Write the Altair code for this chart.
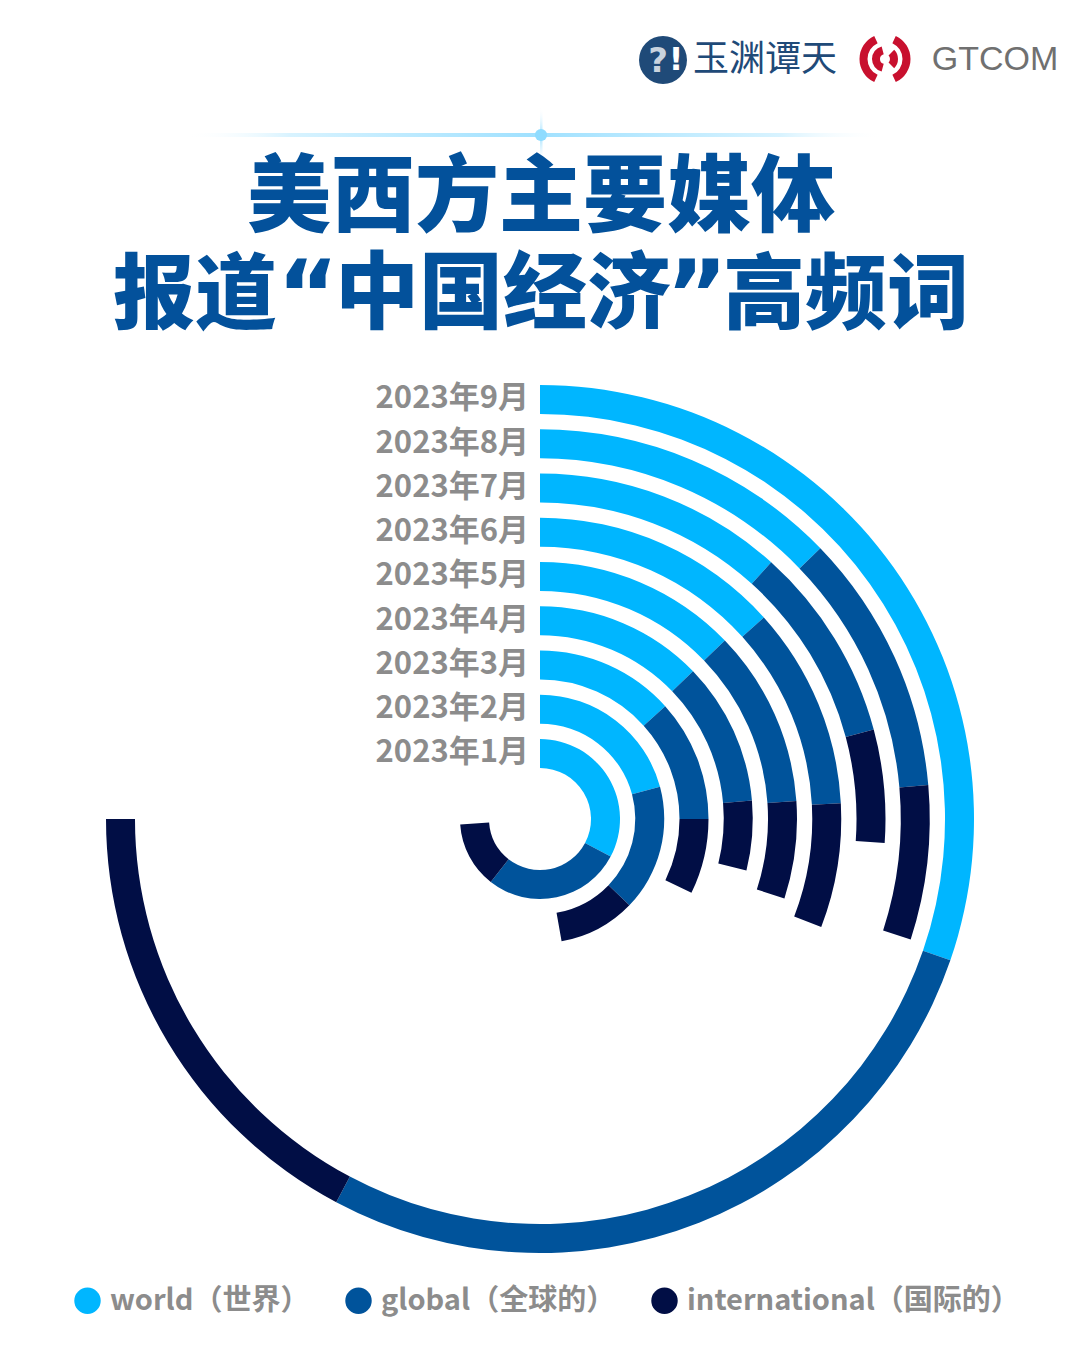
import altair as alt
import pandas as pd
import math

# ---------------- data ----------------
months = ["2023年1月", "2023年2月", "2023年3月", "2023年4月", "2023年5月",
          "2023年6月", "2023年7月", "2023年8月", "2023年9月"]
series = ["world（世界）", "global（全球的）", "international（国际的）"]
world = [118, 75, 48, 46, 46, 48, 42, 46, 109]
global_vals = [100, 59, 42, 39, 40, 39, 33, 39, 99]
international = [48, 36, 26, 19, 22, 24, 19, 23, 62]
colors = ["#00B6FF", "#00539B", "#010E45"]

title_line1 = "美西方主要媒体"
title_line2_parts = ["报道", "“", "中国经济", "”", "高频词"]

rows = []
for i, m in enumerate(months):
    for j, (s, vals) in enumerate(zip(series, [world, global_vals, international])):
        rows.append({"month": m, "ring": i + 1, "series": s, "order": j, "value": vals[i]})
df = pd.DataFrame(rows)
labels_df = pd.DataFrame({"month": months, "ring": list(range(1, len(months) + 1))})
one = pd.DataFrame({"a": [0]})

FONT = "Noto Sans CJK SC"
CX, CY = 532, 811
THICK = 0.655
theta_scale = alt.Scale(type="linear", domain=[0, 360], range=[0, 6.283185307179586])
r_scale = alt.Scale(type="linear", domain=[0, 9], range=[35.75, 434], zero=False)

arcs = alt.Chart(df).transform_window(
    cum="sum(value)", groupby=["month"], sort=[alt.SortField("order")], frame=[None, 0]
).transform_calculate(
    start="datum.cum - datum.value", inner=f"datum.ring - {THICK}"
).mark_arc(strokeWidth=0).encode(
    x=alt.value(CX), y=alt.value(CY),
    theta=alt.Theta("start:Q", scale=theta_scale, stack=None),
    theta2="cum:Q",
    radius=alt.Radius("ring:Q", scale=r_scale),
    radius2="inner:Q",
    color=alt.Color(
        "series:N",
        scale=alt.Scale(domain=series, range=colors),
        legend=alt.Legend(
            title=None, orient="none", legendX=65, legendY=1278, direction="horizontal",
            symbolType="circle", symbolSize=700, symbolStrokeWidth=0,
            labelFont=FONT, labelFontSize=29, labelFontWeight="bold", labelColor="#8C8C8C",
            labelOffset=8, columnPadding=34, padding=0, labelLimit=0,
        ),
    ),
)

labels = alt.Chart(labels_df).transform_calculate(
    mid=f"datum.ring - {THICK / 2}", t0="0"
).mark_text(
    align="right", baseline="middle", dx=-11, font=FONT, fontSize=31,
    fontWeight="bold", color="#8C8C8C"
).encode(
    x=alt.value(CX), y=alt.value(CY),
    theta=alt.Theta("t0:Q", scale=theta_scale, stack=None),
    radius=alt.Radius("mid:Q", scale=r_scale),
    text="month:N",
)


def txt(text, x, y, size, color, weight="bold", font=FONT, align="center", baseline="middle"):
    return alt.Chart(one).mark_text(
        text=text, align=align, baseline=baseline, fontSize=size, fontWeight=weight,
        font=font, color=color
    ).encode(x=alt.value(x), y=alt.value(y))


def arc(x, y, r_in, r_out, t0, t1, color):
    return alt.Chart(one).mark_arc(color=color, strokeWidth=0).encode(
        x=alt.value(x), y=alt.value(y),
        theta=alt.value(t0), theta2=alt.value(t1),
        radius=alt.value(r_out), radius2=alt.value(r_in),
    )


d = math.pi / 180

# title decoration
hglow = alt.Chart(one).mark_rect(
    fill=alt.Gradient(
        gradient="linear", x1=0, x2=1, y1=0, y2=0,
        stops=[alt.GradientStop(offset=0, color="rgba(255,255,255,0)"),
               alt.GradientStop(offset=0.15, color="#D8F3FF"),
               alt.GradientStop(offset=0.5, color="#A0E1FF"),
               alt.GradientStop(offset=0.85, color="#D8F3FF"),
               alt.GradientStop(offset=1, color="rgba(255,255,255,0)")],
    )
).encode(x=alt.value(177), x2=alt.value(877), y=alt.value(125), y2=alt.value(129))

vglow = alt.Chart(one).mark_rect(
    fill=alt.Gradient(
        gradient="linear", x1=0, x2=0, y1=0, y2=1,
        stops=[alt.GradientStop(offset=0, color="rgba(255,255,255,0)"),
               alt.GradientStop(offset=0.5, color="#9FE0FF"),
               alt.GradientStop(offset=1, color="rgba(255,255,255,0)")],
    )
).encode(x=alt.value(532), x2=alt.value(534.5), y=alt.value(99), y2=alt.value(156))

dot = alt.Chart(one).mark_point(shape="circle", filled=True, size=150, color="#8FDCFF", opacity=1).encode(
    x=alt.value(533), y=alt.value(127))

TBLUE = "#03519B"
title1 = txt(title_line1, 533, 192, 84, TBLUE, weight=900)
t2a = txt(title_line2_parts[0], 187, 289, 82, TBLUE, weight=900)
t2q1 = txt(title_line2_parts[1], 300, 320, 94, TBLUE, weight="bold", font="DejaVu Sans", baseline="alphabetic")
t2b = txt(title_line2_parts[2], 495, 289, 84, TBLUE, weight=900)
t2q2 = txt(title_line2_parts[3], 689, 320, 94, TBLUE, weight="bold", font="DejaVu Sans", baseline="alphabetic")
t2c = txt(title_line2_parts[4], 838, 289, 82, TBLUE, weight=900)

# logos
logo_circle = alt.Chart(one).mark_circle(size=2300, color="#1F4A78", opacity=1).encode(
    x=alt.value(655), y=alt.value(52))
logo_q = txt("?", 650, 54, 34, "#C9D3DE", weight="bold", font="DejaVu Sans")
logo_ex = txt("!", 668, 52, 32, "#FFFFFF", weight="bold", font="DejaVu Sans")
logo_cn = txt("玉渊谭天", 757, 52, 36, "#1F4A78", weight="normal")
red = "#C8102E"
icon = [
    arc(877, 51, 17.5, 25.5, 205 * d, 335 * d, red),
    arc(877, 51, 17.5, 25.5, 25 * d, 155 * d, red),
    arc(877, 51, 5, 13, 195 * d, 345 * d, red),
    arc(877, 51, 5, 13, 45 * d, 135 * d, red),
]
gtcom = txt("GTCOM", 987, 52, 34, "#707070", weight="normal", font="Liberation Sans")

chart = alt.layer(
    hglow, vglow, dot, title1, t2a, t2q1, t2b, t2q2, t2c,
    logo_circle, logo_q, logo_ex, logo_cn, *icon, gtcom,
    arcs, labels,
).properties(
    width=1064, height=1340, padding=0, autosize="none", background="white"
).configure_view(stroke=None)

chart.save("out.html", embed_options={"renderer": "svg", "actions": False})
